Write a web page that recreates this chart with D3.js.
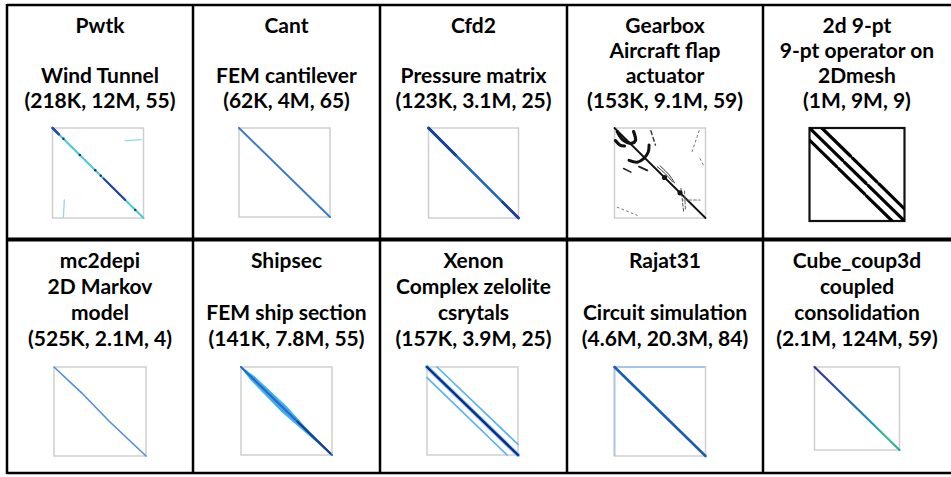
<!DOCTYPE html>
<html>
<head>
<meta charset="utf-8">
<script src="https://cdn.jsdelivr.net/npm/d3@7"></script>
<style>
  html, body { margin: 0; padding: 0; background: #fff; }
  svg { display: block; }
  .cell-text { font-family: Lato, "Open Sans", sans-serif; font-weight: bold; font-size: 21px; fill: #000; }
</style>
</head>
<body>
<svg id="chart" width="951" height="477"></svg>
<script>
// --- data: one entry per table cell, left to right, top to bottom ---
const matrixNames = ["Pwtk", "Cant", "Cfd2", "Gearbox", "2d 9-pt",
                     "mc2depi", "Shipsec", "Xenon", "Rajat31", "Cube_coup3d"];
const descLine1 = ["", "", "", "Aircraft flap", "9-pt operator on",
                   "2D Markov", "", "Complex zelolite", "", "coupled"];
const descLine2 = ["Wind Tunnel", "FEM cantilever", "Pressure matrix", "actuator", "2Dmesh",
                   "model", "FEM ship section", "csrytals", "Circuit simulation", "consolidation"];
const numRows     = ["218K", "62K", "123K", "153K", "1M", "525K", "141K", "157K", "4.6M", "2.1M"];
const numNonzeros = ["12M", "4M", "3.1M", "9.1M", "9M", "2.1M", "7.8M", "3.9M", "20.3M", "124M"];
const nnzPerRow   = [55, 65, 25, 59, 9, 4, 55, 25, 84, 59];

// sparsity patterns, as [col, row] fractions of the matrix size
const pwtkPattern = [
  { pts: [[0, 0], [1, 1]], color: "#46cbd8", width: 2 },
  { pts: [[0, 0], [0.07, 0.07]], color: "#2048b0", width: 2.6 },
  { pts: [[0.56, 0.56], [0.8, 0.8]], color: "#2a36a8", width: 1.9 },
  { pts: [[0.8, 0.14], [0.98, 0.13]], color: "#86dce4", width: 1.3, dash: "4,1" },
  { pts: [[0.13, 0.8], [0.12, 0.99]], color: "#86dce4", width: 1.3, dash: "4,1" }
];
const pwtkDots = [[0.12, 0.12], [0.3, 0.3], [0.47, 0.47], [0.53, 0.53], [0.91, 0.91]];
const cantPattern = [
  { pts: [[0, 0], [1, 1]], color: "#3b7bc8", width: 2 }
];
const cfd2Pattern = [
  { pts: [[0, 0], [1, 1]], color: "#1f64c4", width: 2.6 },
  { pts: [[0, 0], [0.3, 0.3]], color: "#1a3f9c", width: 2.8 },
  { pts: [[0.82, 0.82], [1, 1]], color: "#1a3f9c", width: 2.6 }
];
const gearboxPattern = [
  { pts: [[0, 0], [1, 1]], color: "#111", width: 1.8 },
  { pts: [[0.03, 0.04], [0.08, 0.12], [0.14, 0.16], [0.19, 0.17], [0.23, 0.14], [0.21, 0.04]], color: "#111", width: 3.2, curve: true },
  { pts: [[0.01, 0.14], [0.06, 0.19], [0.11, 0.2]], color: "#111", width: 3.2, curve: true },
  { pts: [[0.16, 0.36], [0.25, 0.38], [0.32, 0.34], [0.37, 0.27], [0.38, 0.19]], color: "#111", width: 3, curve: true },
  { pts: [[0.1, 0.45], [0.18, 0.49]], color: "#222", width: 1.6 },
  { pts: [[0.27, 0.43], [0.36, 0.47]], color: "#222", width: 2 },
  { pts: [[0.4, 0.03], [0.45, 0.19]], color: "#333", width: 1.4, dash: "4,3" },
  { pts: [[0.47, 0.43], [0.56, 0.51], [0.64, 0.6]], color: "#333", width: 1, curve: true },
  { pts: [[0.5, 0.42], [0.6, 0.52], [0.66, 0.61]], color: "#333", width: 1, curve: true },
  { pts: [[0.73, 0.67], [0.76, 0.93]], color: "#555", width: 1, dash: "3,2" },
  { pts: [[0.77, 0.7], [0.78, 0.92]], color: "#666", width: 1, dash: "3,2" },
  { pts: [[0.76, 0.8], [0.94, 0.8]], color: "#777", width: 1.2, dash: "3,2" },
  { pts: [[0.93, 0.03], [0.85, 0.27]], color: "#777", width: 1, dash: "2,3" },
  { pts: [[0.94, 0.34], [0.98, 0.42]], color: "#777", width: 1, dash: "2,3" },
  { pts: [[0.03, 0.88], [0.25, 0.97]], color: "#777", width: 1, dash: "2,3" }
];
const gearboxDots = [[0.72, 0.72], [0.55, 0.55]];
const mesh9Pattern = [
  { pts: [[0.13, 0], [1, 0.87]], color: "#000", width: 3.2, dash: "40,3,34,3,60" },
  { pts: [[0, 0], [1, 1]], color: "#000", width: 3.2, dash: "46,3,30,3,70" },
  { pts: [[0, 0.13], [0.87, 1]], color: "#000", width: 3.2, dash: "38,3,36,3,60" }
];
const mc2depiPattern = [
  { pts: [[0, 0], [0.3, 0.29], [0.6, 0.61], [1, 1]], color: "#4f8fdc", width: 1.6 }
];
const shipsecPattern = [
  { pts: [[0, 0], [0.15, 0.11], [0.5, 0.45], [0.75, 0.735], [1, 1], [0.735, 0.765], [0.45, 0.51], [0.11, 0.15], [0, 0]], color: "#35c3e2", width: 1, fill: "#4aa3f0" },
  { pts: [[0, 0], [1, 1]], color: "#1e6bd0", width: 2 },
  { pts: [[0.62, 0.62], [0.98, 0.98]], color: "#1a3c9c", width: 2.2 }
];
const xenonPattern = [
  { pts: [[0.11, 0], [1, 0.88]], color: "#5ab2f2", width: 1.7 },
  { pts: [[0, 0.12], [0.88, 1]], color: "#5ab2f2", width: 1.7 },
  { pts: [[0, 0], [1, 1]], color: "#8cc8f4", width: 4.2 },
  { pts: [[0, 0], [1, 1]], color: "#0c2c88", width: 2.4 }
];
const rajatPattern = [
  { pts: [[0, 0], [1, 1]], color: "#1b5db2", width: 2.6 }
];
const cubePattern = [
  { pts: [[0, 0], [1, 1]], color: "url(#cubeGrad)", width: 2.2 }
];

const patterns = [pwtkPattern, cantPattern, cfd2Pattern, gearboxPattern, mesh9Pattern,
                  mc2depiPattern, shipsecPattern, xenonPattern, rajatPattern, cubePattern];
const patternDots = [pwtkDots, [], [], gearboxDots, [], [], [], [], [], []];

// --- layout ---
const colEdges = [7, 193, 380, 567, 763, 953];
const rowTops = [5, 240];
const rowBottoms = [239, 473];
const baselineOffsets = [[28, 53, 78, 103], [28, 54, 80, 106]];
const thumbTop = [128, 367];
const thumbShift = [-2, -2, 0, -5, 0, 0, 0, -1, -5, 0];
const thumbW = [91, 91, 90, 91, 95, 92, 91, 91, 91, 85];
const thumbH = [90, 89, 90, 90, 93, 89, 88, 88, 89, 83];

const svg = d3.select("#chart");

const defs = svg.append("defs");
const grad = defs.append("linearGradient")
    .attr("id", "cubeGrad")
    .attr("x1", "0%").attr("y1", "0%")
    .attr("x2", "100%").attr("y2", "100%");
[["0%", "#3a2c9c"], ["30%", "#2054b2"], ["60%", "#1a86c4"], ["85%", "#34c48e"], ["100%", "#2aa8a8"]]
    .forEach(s => grad.append("stop").attr("offset", s[0]).attr("stop-color", s[1]));

const cells = matrixNames.map((name, i) => {
    const col = i % 5, row = Math.floor(i / 5);
    return {
        name, col, row, i,
        lines: [name, descLine1[i], descLine2[i], `(${numRows[i]}, ${numNonzeros[i]}, ${nnzPerRow[i]})`]
    };
});

// text
cells.forEach(c => {
    const cx = (colEdges[c.col] + Math.min(colEdges[c.col + 1], 951)) / 2;
    svg.append("g")
        .selectAll("text")
        .data(c.lines)
        .join("text")
        .attr("class", "cell-text")
        .attr("text-anchor", "middle")
        .attr("x", cx)
        .attr("y", (d, k) => rowTops[c.row] + baselineOffsets[c.row][k])
        .text(d => d);
});

// sparsity thumbnails
cells.forEach(c => {
    const cx = (colEdges[c.col] + Math.min(colEdges[c.col + 1], 951)) / 2 + thumbShift[c.i];
    const w = thumbW[c.i], h = thumbH[c.i];
    const x0 = cx - w / 2, y0 = thumbTop[c.row];
    const x = d3.scaleLinear().domain([0, 1]).range([x0, x0 + w]);
    const y = d3.scaleLinear().domain([0, 1]).range([y0, y0 + h]);
    const g = svg.append("g");

    g.append("rect")
        .attr("x", x(0)).attr("y", y(0))
        .attr("width", w).attr("height", h)
        .attr("fill", "#fff")
        .attr("stroke", c.name === "2d 9-pt" ? "#111" : "#cfcfcf")
        .attr("stroke-width", c.name === "2d 9-pt" ? 2.2 : 1.5);

    if (c.name === "Rajat31") {
        g.append("path")
            .attr("d", d3.line()([[x(0), y(1)], [x(0), y(0)], [x(1), y(0)]]))
            .attr("fill", "none").attr("stroke", "#a8c6e8").attr("stroke-width", 1.8);
    }

    const inner = g.append("g");
    if (c.name === "2d 9-pt") {
        inner.append("clipPath").attr("id", "clip9")
            .append("rect").attr("x", x(0)).attr("y", y(0)).attr("width", w).attr("height", h);
        inner.attr("clip-path", "url(#clip9)");
    }

    patterns[c.i].forEach(s => {
        const line = d3.line().x(p => x(p[0])).y(p => y(p[1]));
        if (s.curve) line.curve(d3.curveCatmullRom);
        inner.append("path")
            .attr("d", line(s.pts))
            .attr("fill", s.fill || "none")
            .attr("stroke", s.color)
            .attr("stroke-width", s.width)
            .attr("stroke-dasharray", s.dash || null)
            .attr("stroke-linecap", "round");
    });

    inner.selectAll("circle")
        .data(patternDots[c.i])
        .join("circle")
        .attr("cx", p => x(p[0]))
        .attr("cy", p => y(p[1]))
        .attr("r", c.name === "Gearbox" ? 2.6 : 1.2)
        .attr("fill", c.name === "Gearbox" ? "#111" : "#24306a");
});

// table rules
const rules = svg.append("g").attr("stroke", "#000").attr("fill", "none");
rules.append("line").attr("x1", colEdges[0]).attr("x2", colEdges[5]).attr("y1", rowTops[0]).attr("y2", rowTops[0]).attr("stroke-width", 2.5);
rules.append("line").attr("x1", colEdges[0]).attr("x2", colEdges[5]).attr("y1", 239.5).attr("y2", 239.5).attr("stroke-width", 4);
rules.append("line").attr("x1", colEdges[0]).attr("x2", colEdges[5]).attr("y1", rowBottoms[1]).attr("y2", rowBottoms[1]).attr("stroke-width", 2.5);
colEdges.forEach(xe => {
    rules.append("line").attr("x1", xe).attr("x2", xe).attr("y1", rowTops[0] - 1).attr("y2", rowBottoms[1] + 1).attr("stroke-width", 2.5);
});
</script>
</body>
</html>
